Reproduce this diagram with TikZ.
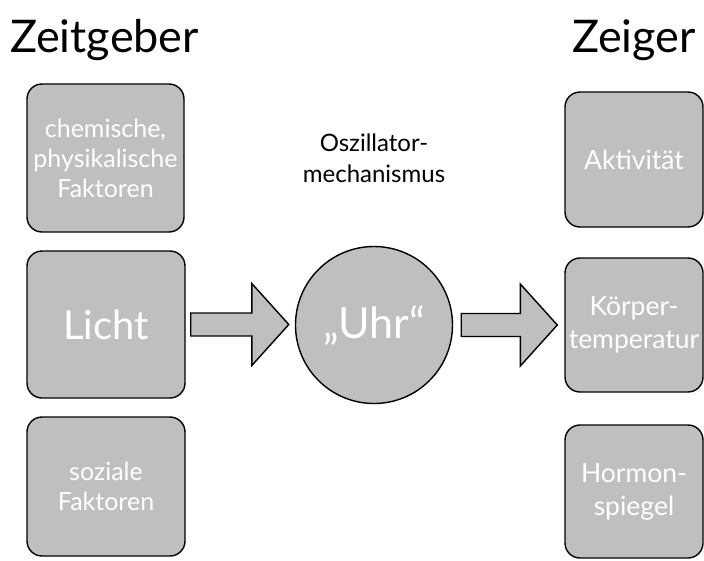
\documentclass[tikz,border=0pt]{standalone}
\usepackage{fontspec}
\setmainfont{Lato}
\usetikzlibrary{calc}
\definecolor{boxgray}{HTML}{BFBFBF}
\tikzset{
  roundbox/.style={draw=black, line width=1.4pt, fill=boxgray, rounded corners=15pt,
    inner sep=0pt, text=white, align=center, font=\fontsize{25}{30}\selectfont},
  rightbox/.style={roundbox, font=\fontsize{26.5}{33}\selectfont},
  clockcircle/.style={draw=black, line width=1.4pt, fill=boxgray, circle, inner sep=0pt,
    minimum size=157pt, text=white, font=\fontsize{43}{46}\selectfont},
  blockarrow/.style={draw=black, line width=1.4pt, fill=boxgray, line join=miter},
  titletext/.style={font=\fontsize{45}{50}\selectfont, inner sep=0pt},
  labeltext/.style={font=\fontsize{24}{31}\selectfont, align=center, inner sep=0pt}
}
\newcommand{\mkarrow}[2]{%
  \path[blockarrow] let \p1=(#1), \p2=(#2) in
    (\x1,\y1+11.5pt) -- (\x2-37pt,\y1+11.5pt) -- (\x2-37pt,\y1+41pt) -- (\x2,\y1)
    -- (\x2-37pt,\y1-41pt) -- (\x2-37pt,\y1-11.5pt) -- (\x1,\y1-11.5pt) -- cycle;}
\begin{document}
\begin{tikzpicture}[x=1pt,y=-1pt]
\useasboundingbox (0,0) rectangle (704,560);
% titles
\node[titletext, anchor=base west] (tzeit) at (10,52) {Zeitgeber};
\node[titletext, anchor=base east] (tzeiger) at (696,52) {Zeiger};
\node[labeltext, anchor=base] (osz) at (374,182) {Oszillator-\\mechanismus};
% left boxes
\node[roundbox, minimum width=157pt, minimum height=148pt] (chem) at (105.5,158) {chemische,\\physikalische\\Faktoren};
\node[roundbox, minimum width=158pt, minimum height=147pt, font=\fontsize{40}{44}\selectfont] (licht) at (106,324.5) {Licht};
\node[roundbox, minimum width=158pt, minimum height=139pt] (sozial) at (106,486.5) {soziale\\Faktoren};
% clock
\node[clockcircle] (uhr) at (374,325) {„Uhr“};
% right boxes
\node[rightbox, minimum width=138pt, minimum height=135pt] (akt) at (634,159.5) {Aktivität};
\node[rightbox, minimum width=138pt, minimum height=134pt] (temp) at (634,325) {Körper-\\temperatur};
\node[rightbox, minimum width=138pt, minimum height=133pt] (horm) at (634,491.5) {Hormon-\\spiegel};
% arrows
\coordinate (a1s) at ($(licht.east)+(5,0)$);
\coordinate (a1e) at ($(uhr.west)+(-6,0)$);
\coordinate (a2s) at ($(uhr.east)+(8,0)$);
\coordinate (a2e) at ($(temp.west)+(-7,0)$);
\mkarrow{a1s}{a1e}
\mkarrow{a2s}{a2e}
\end{tikzpicture}
\end{document}
